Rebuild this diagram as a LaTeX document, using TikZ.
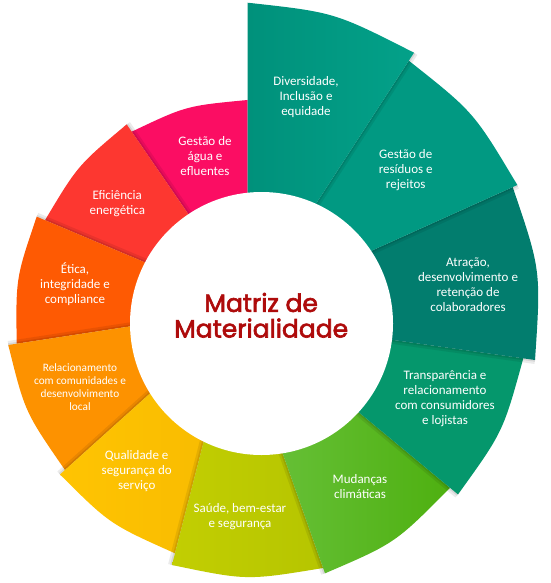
\documentclass[tikz,border=0pt]{standalone}
\usepackage{fontspec}
\setmainfont{Carlito}
\newfontfamily\titlefont{Poppins}[FakeBold=2.5]
\usetikzlibrary{calc}
\definecolor{cDiv}{HTML}{019C84}
\definecolor{cDivL}{HTML}{00917B}
\definecolor{cDivR}{HTML}{03A189}
\definecolor{cRes}{HTML}{019982}
\definecolor{cAtr}{HTML}{027D6E}
\definecolor{cTra}{HTML}{05976C}
\definecolor{cMudL}{HTML}{68C13A}
\definecolor{cMudR}{HTML}{4EB010}
\definecolor{cSauL}{HTML}{C2CE02}
\definecolor{cSauR}{HTML}{B6C500}
\definecolor{cQuaL}{HTML}{FFC402}
\definecolor{cQuaR}{HTML}{F6B900}
\definecolor{cRel}{HTML}{FD9200}
\definecolor{cEti}{HTML}{FE5A03}
\definecolor{cEfi}{HTML}{FD3730}
\definecolor{cAgu}{HTML}{FB0D63}
\definecolor{cTitle}{HTML}{AE0B0B}
\tikzset{
  lbl/.style={text=white, align=center, inner sep=0pt, font=\fontsize{13}{15}\selectfont},
  lblsmall/.style={text=white, align=center, inner sep=0pt, font=\fontsize{11.3}{12.8}\selectfont},
  shadeline/.style={draw=black, draw opacity=0.08, line width=8pt},
  shadeline2/.style={draw=black, draw opacity=0.09, line width=3.5pt},
}
\begin{document}
\begin{tikzpicture}[x=1pt,y=-1pt]
\useasboundingbox (0,0) rectangle (550,583);
\coordinate (C) at (261.5,323.5);
% inner points of the boundaries
\coordinate (i1) at (247.5,260);
\coordinate (i2) at (279.2,260.4);
\coordinate (i3) at (309.2,278.8);
\coordinate (i4) at (324,330.2);
\coordinate (i5) at (306.1,368.7);
\coordinate (i6) at (260,389);
\coordinate (i7) at (220.7,375.5);
\coordinate (i8) at (200.3,348.2);
\coordinate (i9) at (197.5,316.1);
\coordinate (i10) at (207.8,288.9);
\coordinate (i11) at (226.3,269.4);
% outer corners
\coordinate (divA) at (247.5,2.7);   \coordinate (divB) at (414,52.7);
\coordinate (resA) at (408.8,60.7);  \coordinate (resB) at (517.3,185);
\coordinate (atrA) at (512.7,187.1); \coordinate (atrB) at (535,360);
\coordinate (traA) at (523.3,358.3); \coordinate (traB) at (458,494.4);
\coordinate (mudA) at (450,487.8);   \coordinate (mudB) at (325,573.3);
\coordinate (sauA) at (323.1,568);   \coordinate (sauB) at (172,565);
\coordinate (quaA) at (175,553.3);   \coordinate (quaB) at (60,474.5);
\coordinate (relA) at (65,470);      \coordinate (relB) at (8.3,345);
\coordinate (etiA) at (16.7,343.7);  \coordinate (etiB) at (36.7,216.7);
\coordinate (efiA) at (45,220.2);    \coordinate (efiB) at (126.7,124.4);
\coordinate (aguA) at (131.7,131.7); \coordinate (aguB) at (247.5,100);
% control points of the outer arcs
\foreach \n/\x in {div/15.9,res/15.2,atr/17.5,tra/13.6,mud/14.8,sau/14.1,qua/12.8,rel/12.6,eti/11.1,efi/10.6,agu/10.6}{
  \coordinate (\n M) at ($(\n A)!0.5!(\n B)$);
  \coordinate (\n Q) at ($(\n M)!-\x pt!(C)$);
}
% slices, bottom to top
\fill[cAgu] (i11) -- (aguA) .. controls (aguQ) .. (aguB) -- (i1) -- (C) -- cycle;
\draw[shadeline] (efiB) -- (i11); \draw[shadeline2] (efiB) -- (i11);
\fill[cEfi] (i10) -- (efiA) .. controls (efiQ) .. (efiB) -- (i11) -- (C) -- cycle;
\draw[shadeline] (etiB) -- (i10); \draw[shadeline2] (etiB) -- (i10);
\fill[cEti] (i9) -- (etiA) .. controls (etiQ) .. (etiB) -- (i10) -- (C) -- cycle;
\draw[shadeline] (relB) -- (i9); \draw[shadeline2] (relB) -- (i9);
\fill[cRel] (i8) -- (relA) .. controls (relQ) .. (relB) -- (i9) -- (C) -- cycle;
\draw[shadeline] (quaB) -- (i8); \draw[shadeline2] (quaB) -- (i8);
\shade[left color=cQuaL, right color=cQuaR] (i7) -- (quaA) .. controls (quaQ) .. (quaB) -- (i8) -- (C) -- cycle;
\draw[shadeline] (sauB) -- (i7); \draw[shadeline2] (sauB) -- (i7);
\shade[left color=cSauL, right color=cSauR] (i6) -- (sauA) .. controls (sauQ) .. (sauB) -- (i7) -- (C) -- cycle;
\draw[shadeline] (mudB) -- (i6); \draw[shadeline2] (mudB) -- (i6);
\shade[left color=cMudL, right color=cMudR] (i5) -- (mudA) .. controls (mudQ) .. (mudB) -- (i6) -- (C) -- cycle;
\draw[shadeline] (traB) -- (i5); \draw[shadeline2] (traB) -- (i5);
\fill[cTra] (i4) -- (traA) .. controls (traQ) .. (traB) -- (i5) -- (C) -- cycle;
\draw[shadeline] (atrB) -- (i4); \draw[shadeline2] (atrB) -- (i4);
\fill[cAtr] (i3) -- (atrA) .. controls (atrQ) .. (atrB) -- (i4) -- (C) -- cycle;
\draw[shadeline] (resB) -- (i3); \draw[shadeline2] (resB) -- (i3);
\fill[cRes] (i2) -- (resA) .. controls (resQ) .. (resB) -- (i3) -- (C) -- cycle;
\draw[shadeline] (divB) -- (i2); \draw[shadeline2] (divB) -- (i2);
\shade[left color=cDivL, right color=cDivR] (i1) -- (divA) .. controls (divQ) .. (divB) -- (i2) -- (C) -- cycle;
% centre
\fill[white] (C) circle[radius=131.5pt];
\node[font=\titlefont\fontsize{25}{25.6}\selectfont, text=cTitle, align=center, inner sep=0pt] (title) at (261.2,315.3) {Matriz de\\Materialidade};
% labels
\node[lbl] (tDiv) at (306,97.3) {Diversidade,\\Inclusão e\\equidade};
\node[lbl] (tRes) at (405.7,170.3) {Gestão de\\resíduos e\\rejeitos};
\node[lbl] (tAtr) at (468,284.5) {Atração,\\desenvolvimento e\\retenção de\\colaboradores};
\node[lbl] (tTra) at (445,398.8) {Transparência e\\relacionamento\\com consumidores\\e lojistas};
\node[lbl] (tMud) at (360,487) {Mudanças\\climáticas};
\node[lbl] (tSau) at (240,517) {Saúde, bem-estar\\e segurança};
\node[lbl] (tQua) at (136.7,471) {Qualidade e\\segurança do\\serviço};
\node[lblsmall] (tRel) at (80,387) {Relacionamento\\com comunidades e\\desenvolvimento\\local};
\node[lbl] (tEti) at (75,284.3) {Ética,\\integridade e\\compliance};
\node[lbl] (tEfi) at (117.3,204) {Eficiência\\energética};
\node[lbl] (tAgu) at (205,155.7) {Gestão de\\água e\\efluentes};
\end{tikzpicture}
\end{document}
